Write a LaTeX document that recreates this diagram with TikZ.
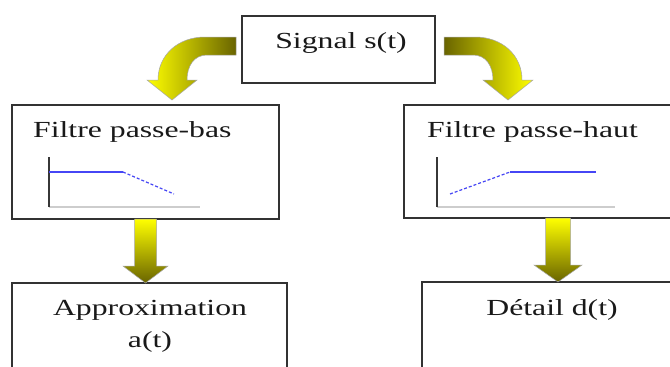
\documentclass[tikz,border=0pt]{standalone}
\usepackage{fontspec}
\setmainfont[FakeStretch=1.38]{Liberation Serif}
\usetikzlibrary{calc}
\definecolor{boxline}{RGB}{50,50,50}
\definecolor{ayellow}{RGB}{255,255,0}
\definecolor{aolive}{RGB}{105,100,0}
\definecolor{plotblue}{RGB}{70,70,245}
\definecolor{axisgray}{RGB}{205,205,205}
\definecolor{axisdark}{RGB}{55,55,55}
\begin{document}
\begin{tikzpicture}[x=1pt,y=-1pt,
  box/.style={draw=boxline, line width=1.3pt, fill=white, inner sep=0pt, outer sep=0pt},
  txt/.style={inner sep=0pt, font=\fontsize{23}{32}\selectfont, text=black!90},
  arrowedge/.style={draw=black!35, line width=0.5pt},
  downarr/.style={arrowedge, top color=ayellow, bottom color=aolive},
  axisv/.style={axisdark, line width=1.5pt},
  axish/.style={axisgray, line width=1.2pt},
  curvesolid/.style={plotblue, line width=1.2pt},
  curvedash/.style={plotblue, line width=1.2pt, dash pattern=on 3pt off 2pt}]
\useasboundingbox (0,0) rectangle (670,367);
\clip (0,0) rectangle (670,367);
\fill[white] (0,0) rectangle (670,367);

% boxes
\node[box, minimum width=193pt, minimum height=67pt] (sig) at (338.5,49.5) {};
\node[box, minimum width=267pt, minimum height=114pt] (lp) at (145.5,162) {};
\node[box, minimum width=308pt, minimum height=113pt] (hp) at (558,161.5) {};
\node[box, minimum width=275pt, minimum height=147pt] (ap) at (149.5,356.5) {};
\node[box, minimum width=272pt, minimum height=148pt] (dt) at (558,356) {};

% texts
\node[txt, anchor=base] (sigt) at (341,48) {Signal s(t)};
\node[txt, anchor=base west] (lpt) at (33,137) {Filtre passe-bas};
\node[txt, anchor=base west] (hpt) at (427,137) {Filtre passe-haut};
\node[txt, anchor=base] (apt) at (150,315) {Approximation};
\node[txt, anchor=base] (apt2) at (150,347) {a(t)};
\node[txt, anchor=base] (dtt) at (552,315) {Détail d(t)};

% mini plots
\draw[axish] (49,207) -- (200,207);
\draw[axisv] (49,157) -- (49,207);
\draw[curvesolid] (49,172) -- (123,172);
\draw[curvedash] (123,172) -- (174,194);

\draw[axish] (437,207) -- (615,207);
\draw[axisv] (437,157) -- (437,207);
\draw[curvedash] (450,194) -- (510,172);
\draw[curvesolid] (510,172) -- (596,172);

% curved arrows from the signal box
\shade[arrowedge, left color=ayellow, middle color=ayellow, right color=aolive]
  (236,37) -- (205,37) .. controls (178,37) and (158,55) .. (158,80)
  -- (147,80) -- (172,100) -- (197,80) -- (187,80)
  .. controls (187,66) and (194,55) .. (207,55) -- (236,55) -- cycle;
\shade[arrowedge, left color=aolive, middle color=ayellow, right color=ayellow]
  (444,37) -- (475,37) .. controls (502,37) and (522,55) .. (522,80)
  -- (533,80) -- (508,100) -- (483,80) -- (493,80)
  .. controls (493,66) and (486,55) .. (473,55) -- (444,55) -- cycle;

% straight down arrows
\coordinate (la0) at (lp.south);
\coordinate (la1) at (lp.south |- ap.north);
\shade[downarr] ($(la0)+(-11,0)$) -- ($(la0)+(11,0)$) -- ($(la1)+(11,-17)$)
  -- ($(la1)+(22.5,-17)$) -- (la1) -- ($(la1)+(-22.5,-17)$)
  -- ($(la1)+(-11,-17)$) -- cycle;
\coordinate (ra0) at (hp.south);
\coordinate (ra1) at (hp.south |- dt.north);
\shade[downarr] ($(ra0)+(-12.5,0)$) -- ($(ra0)+(12.5,0)$) -- ($(ra1)+(12.5,-17)$)
  -- ($(ra1)+(24,-17)$) -- (ra1) -- ($(ra1)+(-24,-17)$)
  -- ($(ra1)+(-12.5,-17)$) -- cycle;
\end{tikzpicture}
\end{document}
